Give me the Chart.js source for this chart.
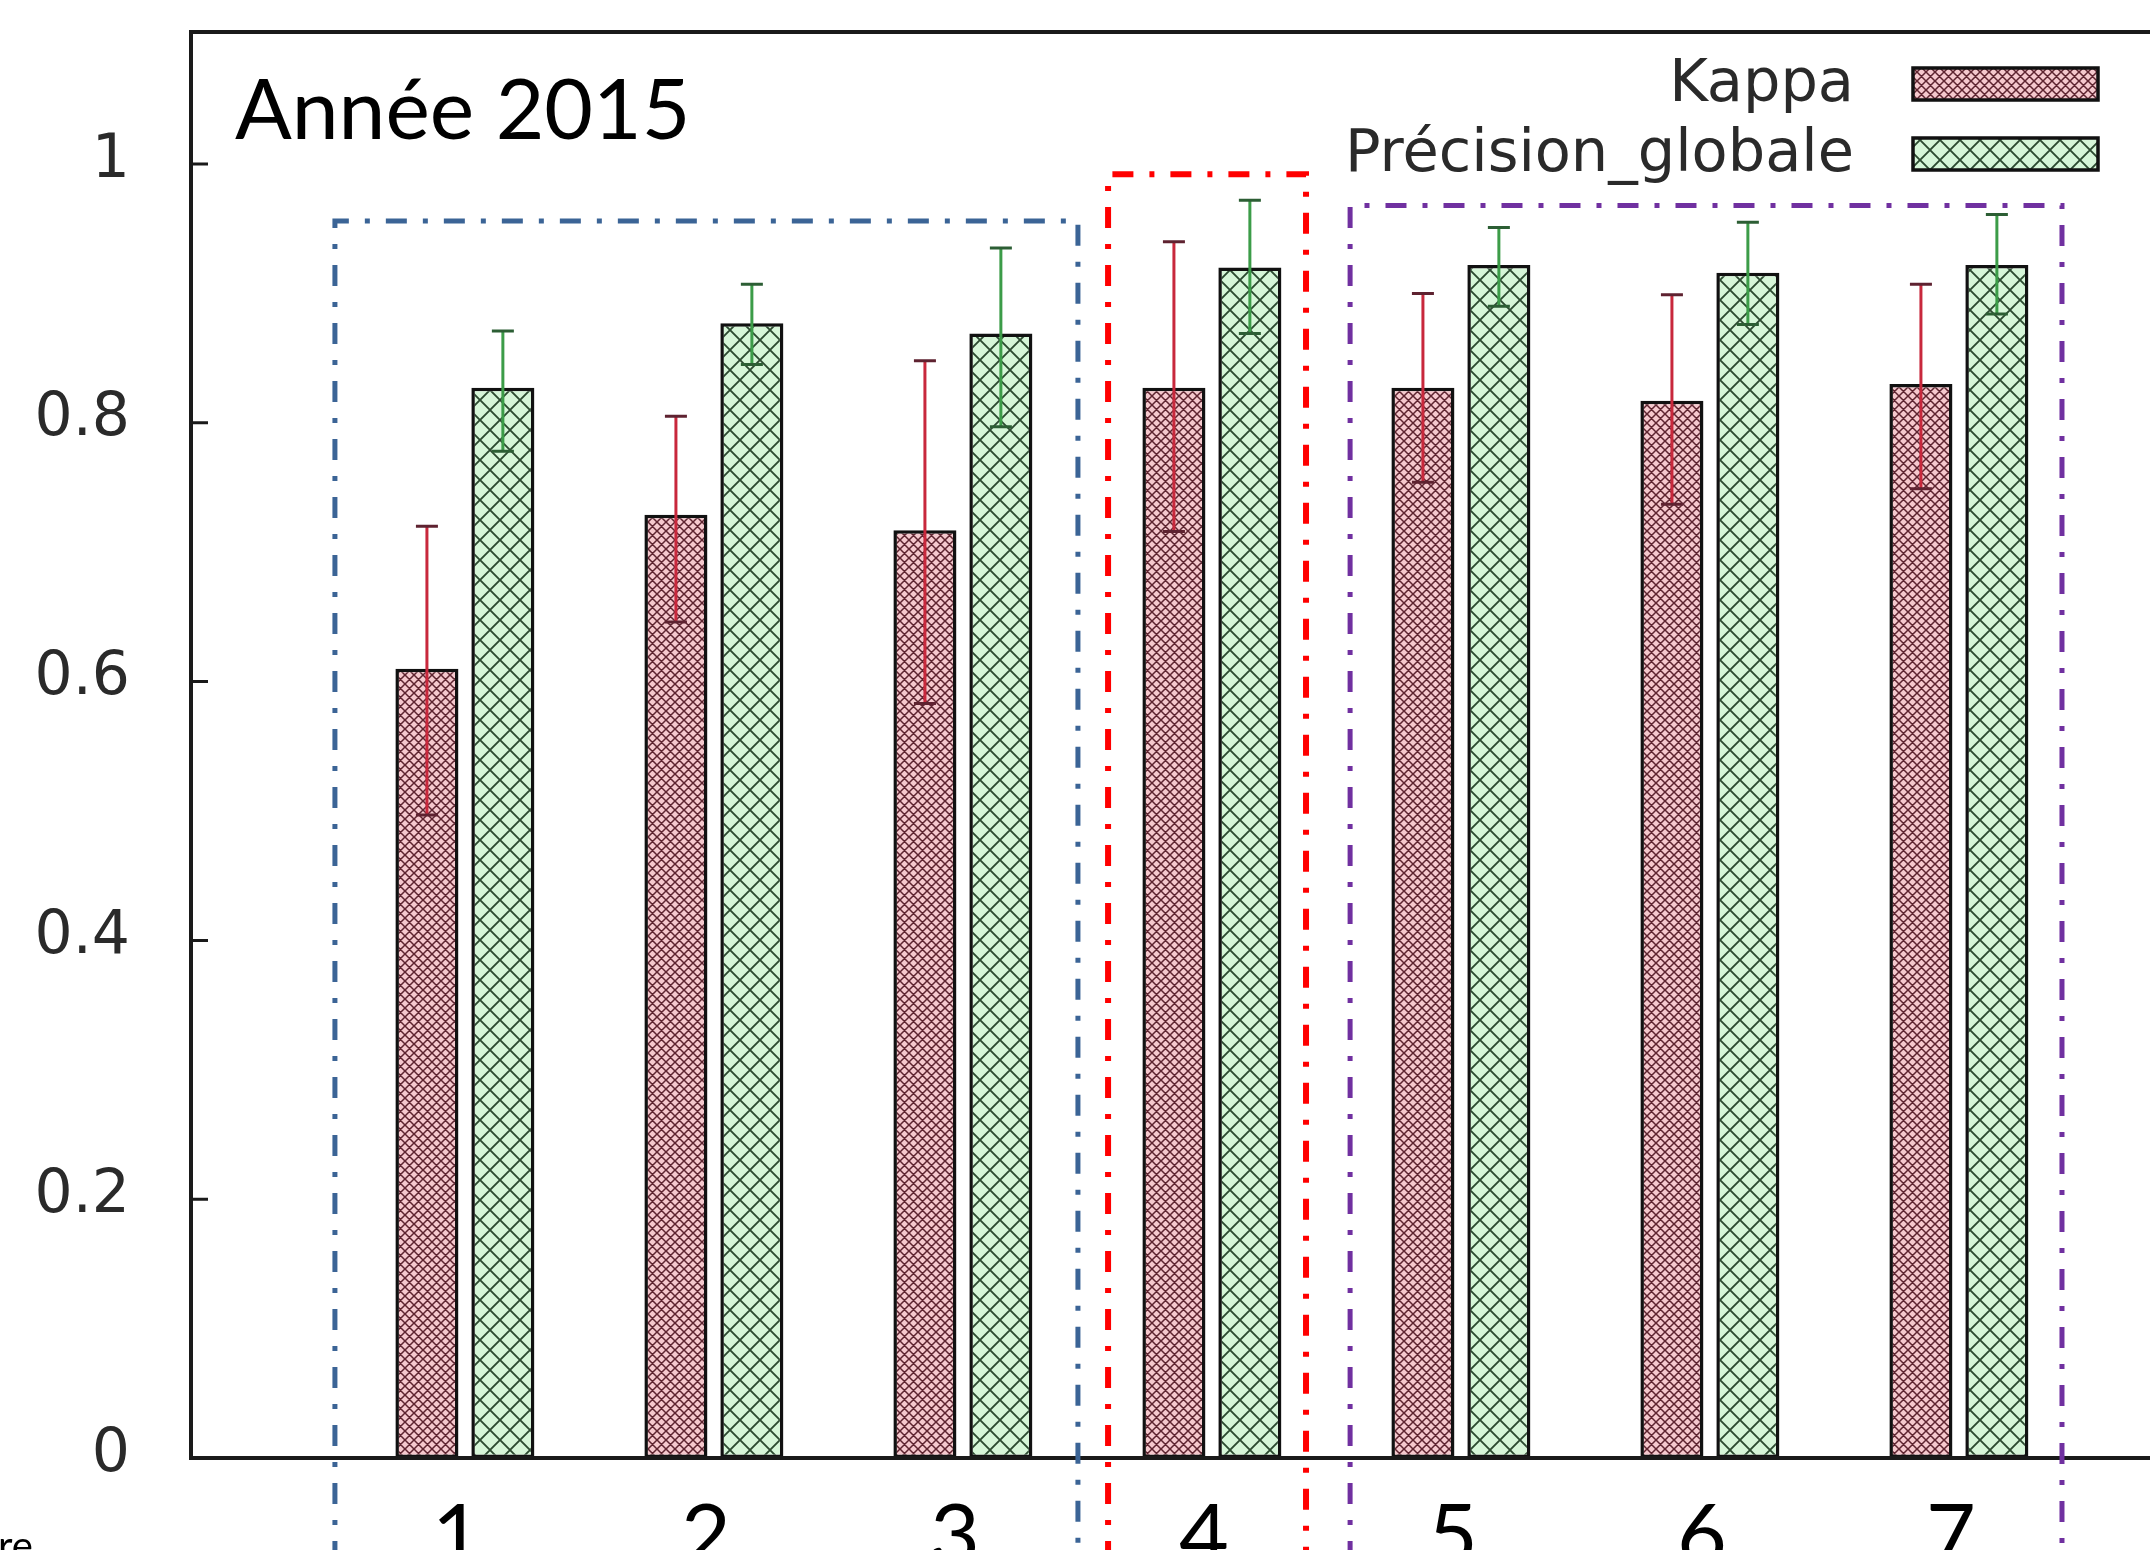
<!DOCTYPE html>
<html>
<head>
<meta charset="utf-8">
<script src="https://cdn.jsdelivr.net/npm/chart.js@4.4.1/dist/chart.umd.min.js"></script>
<style>
  html, body { margin: 0; padding: 0; background: #fff; overflow: hidden; width: 2150px; height: 1550px; }
  #wrap { position: absolute; left: 0; top: 0; }
</style>
</head>
<body>
<div id="wrap"><canvas id="accChart" width="2300" height="1620"></canvas></div>
<script>
// categories (classification runs) and the two measured series
const categories = [1, 2, 3, 4, 5, 6, 7];
const seriesNames = ['Kappa', 'Précision_globale'];
const kappa     = [0.610, 0.729, 0.717, 0.827, 0.827, 0.817, 0.830];
const kappaLow  = [0.497, 0.646, 0.583, 0.716, 0.754, 0.737, 0.749];
const kappaHigh = [0.720, 0.805, 0.848, 0.940, 0.900, 0.899, 0.907];
const precision     = [0.827, 0.877, 0.869, 0.920, 0.922, 0.916, 0.922];
const precisionLow  = [0.778, 0.845, 0.797, 0.869, 0.890, 0.876, 0.884];
const precisionHigh = [0.871, 0.907, 0.935, 0.972, 0.951, 0.955, 0.961];
const yTicks = [0, 0.2, 0.4, 0.6, 0.8, 1];
const titleText = 'Année 2015';

// dash-dot frames drawn over the plot (x in axis units, top in y units)
const frames = [
    { from: 0.478, to: 3.462, top: 0.956, color: '#3b6496', width: 5 },
    { from: 3.583, to: 4.378, top: 0.992, color: '#ff0000', width: 6 },
    { from: 4.555, to: 7.414, top: 0.968, color: '#7030a0', width: 5 }
];

const canvas = document.getElementById('accChart');
const ctx = canvas.getContext('2d');

const makeHatch = (size, bg, line, lw) => {
    var tile = document.createElement('canvas');
    tile.width = size; tile.height = size;
    var g = tile.getContext('2d');
    g.fillStyle = bg;
    g.fillRect(0, 0, size, size);
    g.strokeStyle = line;
    g.lineWidth = lw;
    g.beginPath();
    for (var k = -1; k <= 1; k++) {
        g.moveTo(k * size, 0); g.lineTo(k * size + size, size);
        g.moveTo(k * size, size); g.lineTo(k * size + size, 0);
    }
    g.stroke();
    return ctx.createPattern(tile, 'repeat');
};

const kappaFill = makeHatch(9, '#f5c8cd', '#5e2430', 1.5);
const precFill = makeHatch(20, '#d6f6d8', '#2c4a30', 1.9);

const errors = [
    { low: kappaLow, high: kappaHigh, line: '#c8283c', cap: '#5e2230' },
    { low: precisionLow, high: precisionHigh, line: '#3c9c48', cap: '#2c5e34' }
];

const noPad = s => { s.paddingTop = 0; s.paddingBottom = 0; s.paddingLeft = 0; s.paddingRight = 0; };

const decor = {
    id: 'decor',
    afterDatasetsDraw(chart) {
        const c = chart.ctx, y = chart.scales.y;
        c.save();
        errors.forEach((e, i) => {
            chart.getDatasetMeta(i).data.forEach((bar, j) => {
                var top = y.getPixelForValue(e.high[j]), bot = y.getPixelForValue(e.low[j]);
                c.strokeStyle = e.line; c.lineWidth = 3;
                c.beginPath(); c.moveTo(bar.x, top); c.lineTo(bar.x, bot); c.stroke();
                c.strokeStyle = e.cap; c.lineWidth = 3;
                c.beginPath();
                c.moveTo(bar.x - 11, top); c.lineTo(bar.x + 11, top);
                c.moveTo(bar.x - 11, bot); c.lineTo(bar.x + 11, bot);
                c.stroke();
            });
        });
        c.restore();
    },
    afterDraw(chart) {
        const c = chart.ctx, a = chart.chartArea, x = chart.scales.x, y = chart.scales.y;
        c.save();
        // plot border (left, top, bottom) and inward y ticks
        c.strokeStyle = '#1a1a1a'; c.lineWidth = 4;
        c.beginPath();
        c.moveTo(a.right, a.top); c.lineTo(a.left, a.top); c.lineTo(a.left, a.bottom); c.lineTo(a.right, a.bottom);
        c.stroke();
        c.lineWidth = 3;
        c.beginPath();
        yTicks.forEach(v => {
            var py = y.getPixelForValue(v);
            c.moveTo(a.left, py); c.lineTo(a.left + 17, py);
        });
        c.stroke();

        // title
        c.fillStyle = '#000';
        c.font = '84px Lato';
        c.textAlign = 'left'; c.textBaseline = 'alphabetic';
        c.fillText(titleText, 235, 139);

        // gnuplot style key: text right aligned, sample box on the right
        c.font = '59px "DejaVu Sans"';
        c.textAlign = 'right'; c.textBaseline = 'middle';
        chart.data.datasets.forEach((ds, i) => {
            var cy = 84 + i * 70;
            c.fillStyle = '#2a2a2a';
            c.fillText(ds.label, 1854, cy + 2);
            c.fillStyle = ds.backgroundColor;
            c.fillRect(1913, cy - 16, 185, 32);
            c.strokeStyle = '#111'; c.lineWidth = 3.5;
            c.strokeRect(1913, cy - 16, 185, 32);
        });

        // dash-dot frames
        frames.forEach(f => {
            var l = x.getPixelForValue(f.from), r = x.getPixelForValue(f.to), t = y.getPixelForValue(f.top);
            c.strokeStyle = f.color; c.lineWidth = f.width;
            c.setLineDash([21, 16, 5, 16]);
            c.beginPath();
            c.moveTo(l, chart.height); c.lineTo(l, t); c.lineTo(r, t); c.lineTo(r, chart.height);
            c.stroke();
        });
        c.setLineDash([]);

        // cropped caption fragment at bottom left
        c.fillStyle = '#000';
        c.font = '40px Lato';
        c.textAlign = 'left'; c.textBaseline = 'alphabetic';
        c.fillText('re', -2, 1560);
        c.restore();
    }
};

new Chart(canvas, {
    type: 'bar',
    data: {
        datasets: [{
            label: seriesNames[0],
            data: categories.map((k, i) => ({ x: k, y: kappa[i] })),
            backgroundColor: kappaFill,
            borderColor: '#111',
            borderWidth: 3.5,
            borderSkipped: false
        }, {
            label: seriesNames[1],
            data: categories.map((k, i) => ({ x: k, y: precision[i] })),
            backgroundColor: precFill,
            borderColor: '#111',
            borderWidth: 3.5,
            borderSkipped: false
        }]
    },
    options: {
        responsive: false,
        animation: false,
        devicePixelRatio: 1,
        layout: { padding: { top: 32, left: 0, right: 0, bottom: 0 } },
        datasets: { bar: { categoryPercentage: 0.61, barPercentage: 0.83 } },
        plugins: { legend: { display: false }, tooltip: { enabled: false } },
        scales: {
            x: {
                type: 'linear',
                offset: false,
                min: -0.1,
                max: -0.1 + (2300 - 191) / 249,
                grid: { display: false, drawTicks: false, offset: false },
                border: { display: false },
                afterBuildTicks: s => { s.ticks = categories.map(v => ({ value: v })); },
                afterFit: s => { s.height = 162; noPad(s); },
                ticks: {
                    padding: 28,
                    labelOffset: -8,
                    color: '#000',
                    font: { family: 'Lato', size: 86 },
                    maxRotation: 0,
                    autoSkip: false,
                    callback: v => String(v)
                }
            },
            y: {
                min: 0,
                max: 1.102,
                grid: { display: false, drawTicks: false },
                border: { display: false },
                afterBuildTicks: s => { s.ticks = yTicks.map(v => ({ value: v })); },
                afterFit: s => { s.width = 191; noPad(s); },
                ticks: {
                    padding: 61,
                    labelOffset: -3,
                    color: '#2a2a2a',
                    font: { family: 'DejaVu Sans', size: 60 },
                    callback: v => String(+v.toFixed(1))
                }
            }
        }
    },
    plugins: [decor]
});
</script>
</body>
</html>
